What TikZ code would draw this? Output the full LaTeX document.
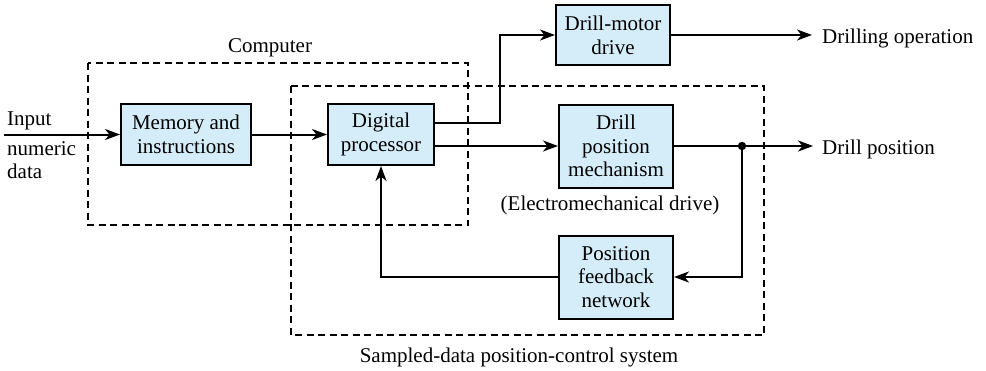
\documentclass[tikz,border=0pt]{standalone}
\usepackage{fontspec}
\setmainfont{LiberationSerif}[Extension=.ttf, UprightFont=*-Regular, BoldFont=*-Bold, ItalicFont=*-Italic]
\usetikzlibrary{arrows.meta,calc}
\definecolor{boxfill}{RGB}{212,237,249}
\begin{document}
\begin{tikzpicture}[x=1pt,y=-1pt,
  txt/.style={font=\fontsize{21}{23.7}\selectfont},
  blk/.style={txt, draw=black, line width=2pt, fill=boxfill, align=center, inner sep=0pt},
  lbl/.style={txt, inner sep=0pt},
  conn/.style={line width=2pt},
  arr/.style={conn, -{Stealth[length=15pt,width=11pt,inset=4.5pt]}},
  grp/.style={line width=1.6pt, dash pattern=on 7pt off 4.5pt}]
\useasboundingbox (0,0) rectangle (986,370);

% group frames
\draw[grp] (88,63) rectangle (468,225);
\draw[grp] (291,86) rectangle (764,335);

% blocks
\node[blk, minimum width=130pt, minimum height=61pt] (mem) at (186,134.5) {Memory and\\instructions};
\node[blk, minimum width=106pt, minimum height=61pt] (dp) at (381,134.5) {Digital\\processor};
\node[blk, minimum width=114pt, minimum height=60pt] (dm) at (613,35) {Drill-motor\\drive};
\node[blk, minimum width=114pt, minimum height=83pt] (dpm) at (616,146) {Drill\\position\\mechanism};
\node[blk, minimum width=114pt, minimum height=83pt] (fb) at (616,277) {Position\\feedback\\network};

% free ends
\coordinate (in) at (4,134.5);
\coordinate (dmout) at (812,35);
\coordinate (dpout) at (813,146);
\coordinate (jn) at (742,146);

% connectors
\draw[arr] (in) -- (mem.west);
\draw[arr] (mem) -- (dp);
\draw[arr] ($(dp.east)+(0,-11.5)$) -- ++(65,0) |- (dm.west);
\draw[arr] ($(dp.east)+(0,11.5)$) -- (dpm.west);
\draw[arr] (dm.east) -- (dmout);
\draw[arr] (dpm.east) -- (dpout);
\fill (jn) circle (4.2pt);
\draw[arr] (jn) |- (fb.east);
\draw[arr] (fb.west) -| (dp.south);

% labels
\node[lbl, anchor=base west] (linput) at (7,125) {Input};
\node[lbl, anchor=base west] (lnum) at (7,155) {numeric};
\node[lbl, anchor=base west] (ldata) at (7,178) {data};
\node[lbl, anchor=base] (lcomp) at (270,52) {Computer};
\node[lbl, anchor=base] (lelec) at (610,210) {(Electromechanical drive)};
\node[lbl, anchor=base] (lsamp) at (519,362) {Sampled-data position-control system};
\node[lbl, anchor=base west] (ldrill) at (822,43) {Drilling operation};
\node[lbl, anchor=base west] (lpos) at (822,154) {Drill position};
\end{tikzpicture}
\end{document}
